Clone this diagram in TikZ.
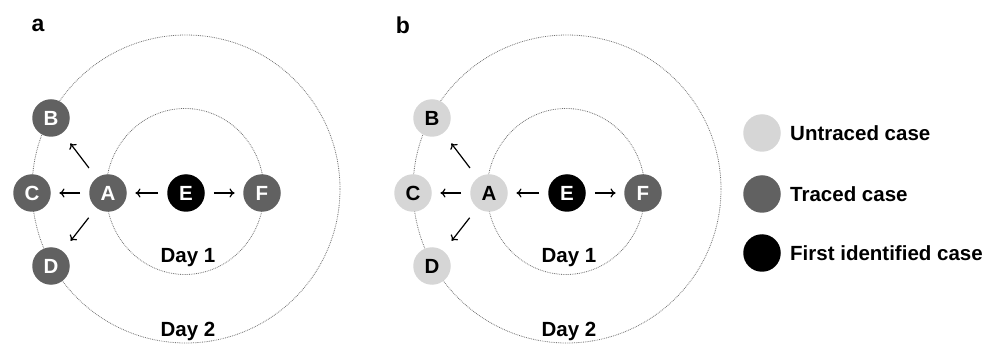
\documentclass[tikz,border=0pt]{standalone}
\usepackage{fontspec}
\setmainfont{Liberation Sans}
\usetikzlibrary{arrows.meta}
\definecolor{untraced}{HTML}{D6D6D6}
\definecolor{traced}{HTML}{616161}
\definecolor{ringgray}{HTML}{707070}
\begin{document}
\begin{tikzpicture}[x=1pt,y=-1pt,
  every node/.style={font=\fontsize{20.5}{24}\selectfont\bfseries},
  case/.style={circle,minimum size=37.5pt,inner sep=0pt},
  untr/.style={case,fill=untraced,text=black},
  trac/.style={case,fill=traced,text=white},
  first/.style={case,fill=black,text=white},
  ring/.style={ringgray,densely dotted,line width=0.8pt},
  arr/.style={-{To[length=5pt,width=9pt]},line width=1.2pt,black},
  arrh/.style={arr,shorten <=9pt,shorten >=8.5pt},
  arrd/.style={arr,shorten <=12.5pt,shorten >=13pt},
  lab/.style={font=\fontsize{23}{27}\selectfont\bfseries},
  legtext/.style={anchor=west,inner sep=0pt}]
\useasboundingbox (0,0) rectangle (998,347);
% panel a
\node[lab] (la) at (38,25) {a};
\draw[ring] (186,189) circle[radius=154];
\draw[ring] (185,191.5) ellipse[x radius=79,y radius=83];
\node[trac] (aA) at (108,193) {A};
\node[first] (aE) at (186,193) {E};
\node[trac] (aF) at (262,193) {F};
\node[trac] (aB) at (51,118) {B};
\node[trac] (aC) at (32,193) {C};
\node[trac] (aD) at (51,266) {D};
\draw[arrh] (aE) -- (aA);
\draw[arrh] (aE) -- (aF);
\draw[arrh] (aA) -- (aC);
\draw[arrd] (aA) -- (aB);
\draw[arrd] (aA) -- (aD);
\node (ad1) at (188,258) {Day 1};
\node (ad2) at (188,331) {Day 2};
% panel b
\begin{scope}[xshift=381pt]
\node[lab] (lb) at (22,25) {b};
\draw[ring] (186,189) circle[radius=154];
\draw[ring] (185,191.5) ellipse[x radius=79,y radius=83];
\node[untr] (bA) at (108,193) {A};
\node[first] (bE) at (186,193) {E};
\node[trac] (bF) at (262,193) {F};
\node[untr] (bB) at (51,118) {B};
\node[untr] (bC) at (32,193) {C};
\node[untr] (bD) at (51,266) {D};
\draw[arrh] (bE) -- (bA);
\draw[arrh] (bE) -- (bF);
\draw[arrh] (bA) -- (bC);
\draw[arrd] (bA) -- (bB);
\draw[arrd] (bA) -- (bD);
\node (bd1) at (188,258) {Day 1};
\node (bd2) at (188,331) {Day 2};
\end{scope}
% legend
\node[untr] (l1) at (762,133) {};
\node[trac] (l2) at (762,194) {};
\node[first] (l3) at (762,253) {};
\node[legtext] (t1) at (790,133) {Untraced case};
\node[legtext] (t2) at (790,194) {Traced case};
\node[legtext] (t3) at (790,253) {First identified case};
\end{tikzpicture}
\end{document}
